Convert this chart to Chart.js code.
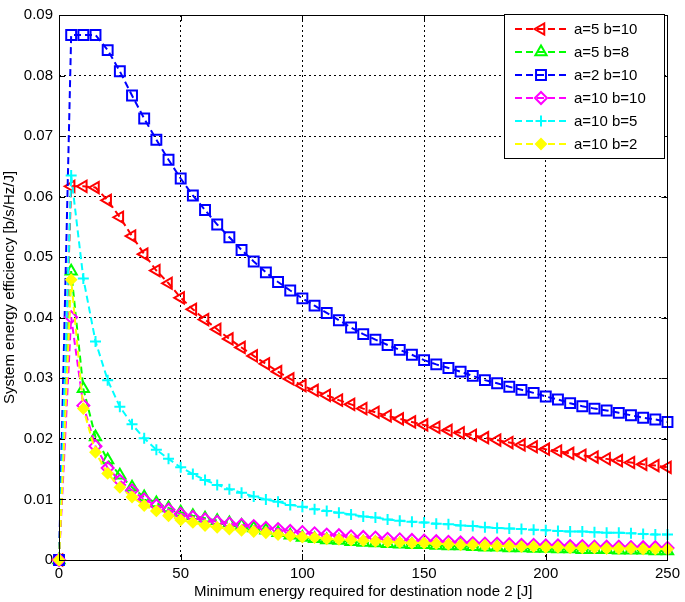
<!DOCTYPE html>
<html>
<head>
<meta charset="utf-8">
<script src="https://cdn.jsdelivr.net/npm/chart.js@4/dist/chart.umd.min.js"></script>
<style>
  body { margin: 0; background: #fff; }
  canvas { display: block; }
</style>
</head>
<body>
<canvas id="effChart" width="685" height="602"></canvas>
<script>
// x: minimum energy for destination node 2 [J]
const XS = [0, 5, 10, 15, 20, 25, 30, 35, 40, 45, 50, 55, 60, 65, 70, 75, 80, 85, 90, 95, 100,
  105, 110, 115, 120, 125, 130, 135, 140, 145, 150, 155, 160, 165, 170, 175, 180, 185, 190, 195, 200,
  205, 210, 215, 220, 225, 230, 235, 240, 245, 250];

const A5_B10 = [0, 0.0617, 0.0617, 0.0615, 0.0594, 0.0566, 0.0535, 0.0505, 0.0478, 0.0457, 0.0433,
  0.0414, 0.0397, 0.0381, 0.0365, 0.0351, 0.0337, 0.0324, 0.0311, 0.0299, 0.0288,
  0.0280, 0.0272, 0.0264, 0.0257, 0.0250, 0.0244, 0.0238, 0.0233, 0.0228, 0.0223,
  0.0219, 0.0214, 0.0210, 0.0206, 0.0202, 0.0198, 0.0194, 0.0190, 0.0187, 0.0183,
  0.0180, 0.0176, 0.0173, 0.0170, 0.0167, 0.0164, 0.0161, 0.0158, 0.0156, 0.0153];

const A5_B8 = [0, 0.0477, 0.0283, 0.0203, 0.0165, 0.0140, 0.0120, 0.0104, 0.0094, 0.0086, 0.0079,
  0.0073, 0.0069, 0.0065, 0.0061, 0.0057, 0.0053, 0.0049, 0.0045, 0.0041, 0.0037,
  0.0035, 0.0033, 0.0032, 0.0030, 0.0029, 0.0028, 0.0027, 0.0026, 0.0025, 0.0025,
  0.0024, 0.0023, 0.0023, 0.0022, 0.0021, 0.0021, 0.0020, 0.0020, 0.0019, 0.0019,
  0.0018, 0.0018, 0.0017, 0.0017, 0.0017, 0.0016, 0.0016, 0.0016, 0.0015, 0.0015];

const A2_B10 = [0, 0.0867, 0.0867, 0.0867, 0.0842, 0.0807, 0.0767, 0.0729, 0.0694, 0.0661, 0.0630,
  0.0602, 0.0578, 0.0554, 0.0533, 0.0512, 0.0493, 0.0475, 0.0459, 0.0445, 0.0432,
  0.0420, 0.0408, 0.0396, 0.0384, 0.0373, 0.0364, 0.0355, 0.0347, 0.0339, 0.0330,
  0.0323, 0.0317, 0.0311, 0.0304, 0.0297, 0.0292, 0.0286, 0.0281, 0.0276, 0.0270,
  0.0265, 0.0259, 0.0254, 0.0250, 0.0247, 0.0243, 0.0239, 0.0235, 0.0232, 0.0228];

const A10_B10 = [0, 0.0401, 0.0255, 0.0188, 0.0152, 0.0131, 0.0115, 0.0100, 0.0090, 0.0083, 0.0076,
  0.0071, 0.0067, 0.0063, 0.0060, 0.0058, 0.0056, 0.0053, 0.0051, 0.0048, 0.0046,
  0.0044, 0.0042, 0.0041, 0.0039, 0.0038, 0.0037, 0.0035, 0.0034, 0.0033, 0.0032,
  0.0031, 0.0030, 0.0029, 0.0028, 0.0027, 0.0027, 0.0026, 0.0025, 0.0025, 0.0024,
  0.0024, 0.0023, 0.0023, 0.0022, 0.0022, 0.0022, 0.0021, 0.0021, 0.0021, 0.0020];

const A10_B5 = [0, 0.0635, 0.0465, 0.0361, 0.0297, 0.0253, 0.0224, 0.0201, 0.0182, 0.0167, 0.0153,
  0.0142, 0.0132, 0.0124, 0.0117, 0.0111, 0.0105, 0.0100, 0.0096, 0.0091, 0.0088,
  0.0084, 0.0081, 0.0078, 0.0075, 0.0072, 0.0070, 0.0067, 0.0065, 0.0063, 0.0062,
  0.0060, 0.0059, 0.0057, 0.0056, 0.0054, 0.0053, 0.0052, 0.0051, 0.0050, 0.0049,
  0.0048, 0.0047, 0.0047, 0.0046, 0.0045, 0.0045, 0.0044, 0.0043, 0.0042, 0.0042];

const A10_B2 = [0, 0.0463, 0.0250, 0.0178, 0.0143, 0.0120, 0.0104, 0.0090, 0.0081, 0.0073, 0.0066,
  0.0062, 0.0057, 0.0054, 0.0051, 0.0049, 0.0047, 0.0045, 0.0042, 0.0040, 0.0038,
  0.0037, 0.0035, 0.0034, 0.0033, 0.0032, 0.0031, 0.0030, 0.0029, 0.0028, 0.0028,
  0.0027, 0.0026, 0.0025, 0.0025, 0.0024, 0.0023, 0.0023, 0.0022, 0.0022, 0.0021,
  0.0021, 0.0020, 0.0020, 0.0020, 0.0019, 0.0019, 0.0019, 0.0018, 0.0018, 0.0018];

const SERIES_LABELS = ['a=5 b=10', 'a=5 b=8', 'a=2 b=10', 'a=10 b=10', 'a=10 b=5', 'a=10 b=2'];
const X_TICKS = [0, 50, 100, 150, 200, 250];
const Y_TICKS = [0, 0.01, 0.02, 0.03, 0.04, 0.05, 0.06, 0.07, 0.08, 0.09];

const FONT = '"Liberation Sans", Arial, Helvetica, sans-serif';

const mkSet = (label, ys, color, style, opts) => Object.assign({
  label: label,
  data: XS.map((x, i) => ({ x: x, y: ys[i] })),
  borderColor: color,
  borderWidth: 2,
  borderDash: [7, 4],
  pointStyle: style,
  pointRadius: 6,
  pointBorderColor: color,
  pointBackgroundColor: 'rgba(0,0,0,0)',
  pointBorderWidth: 2,
  pointRotation: 0,
  tension: 0,
  clip: false
}, opts || {});

const datasets = [
  mkSet(SERIES_LABELS[0], A5_B10, '#ff0000', 'triangle', { pointRotation: -90, pointRadius: 6.5, order: 6 }),
  mkSet(SERIES_LABELS[1], A5_B8, '#00ff00', 'triangle', { pointRadius: 6.5, order: 5 }),
  mkSet(SERIES_LABELS[2], A2_B10, '#0000ff', 'rect', { pointRadius: 7, order: 4 }),
  mkSet(SERIES_LABELS[3], A10_B10, '#ff00ff', 'rectRot', { pointRadius: 6, order: 3 }),
  mkSet(SERIES_LABELS[4], A10_B5, '#00ffff', 'cross', { pointRadius: 5.5, order: 2 }),
  mkSet(SERIES_LABELS[5], A10_B2, '#ffff00', 'rectRot', { pointRadius: 5, pointBackgroundColor: '#ffff00', order: 1 })
];

// solid box, inward tick marks, and the legend inside the axes
const boxAndLegend = {
  id: 'boxAndLegend',
  afterDraw(chart) {
    const { ctx, chartArea: a, scales } = chart;
    ctx.save();
    ctx.strokeStyle = '#000';
    ctx.lineWidth = 1;
    ctx.setLineDash([]);
    ctx.beginPath();
    X_TICKS.forEach(t => {
      const px = Math.round(scales.x.getPixelForValue(t)) + 0.5;
      ctx.moveTo(px, a.bottom); ctx.lineTo(px, a.bottom - 6);
      ctx.moveTo(px, a.top); ctx.lineTo(px, a.top + 6);
    });
    Y_TICKS.forEach(t => {
      const py = Math.round(scales.y.getPixelForValue(t)) + 0.5;
      ctx.moveTo(a.left, py); ctx.lineTo(a.left + 6, py);
      ctx.moveTo(a.right, py); ctx.lineTo(a.right - 6, py);
    });
    ctx.stroke();
    ctx.strokeRect(Math.round(a.left) + 0.5, Math.round(a.top) + 0.5,
      Math.round(a.right - a.left), Math.round(a.bottom - a.top));

    // legend
    const lx = 504.5, ly = 14.5, lw = 160, lh = 144;
    ctx.fillStyle = '#fff';
    ctx.fillRect(lx, ly, lw, lh);
    ctx.strokeRect(lx, ly, lw, lh);
    ctx.font = '15px ' + FONT;
    ctx.textBaseline = 'middle';
    chart.data.datasets.forEach((ds, i) => {
      const y = 29 + i * 23;
      ctx.strokeStyle = ds.borderColor;
      ctx.lineWidth = 2;
      ctx.setLineDash(ds.borderDash);
      ctx.beginPath();
      ctx.moveTo(515, y); ctx.lineTo(569, y);
      ctx.stroke();
      ctx.setLineDash([]);
      ctx.fillStyle = ds.pointBackgroundColor;
      if (Chart.helpers && Chart.helpers.drawPoint) {
        Chart.helpers.drawPoint(ctx, {
          pointStyle: ds.pointStyle, rotation: ds.pointRotation,
          radius: ds.pointRadius, borderWidth: ds.pointBorderWidth
        }, 541, y);
      }
      ctx.fillStyle = '#000';
      ctx.fillText(ds.label, 574, y + 1);
    });
    ctx.restore();
  }
};

new Chart(document.getElementById('effChart').getContext('2d'), {
  type: 'line',
  data: { datasets: datasets },
  options: {
    responsive: false,
    animation: false,
    layout: { padding: { top: 5, right: 13, bottom: 0, left: 0 } },
    plugins: {
      legend: { display: false },
      tooltip: { enabled: false }
    },
    scales: {
      x: {
        type: 'linear',
        min: 0, max: 250,
        afterFit: s => { s.height = 42; },
        afterBuildTicks: s => { s.ticks = X_TICKS.map(v => ({ value: v })); },
        ticks: { color: '#000', font: { family: FONT, size: 15 }, padding: 5, maxRotation: 0 },
        grid: { color: '#000', lineWidth: 1, drawTicks: false },
        border: { display: false, dash: [2, 3] },
        title: {
          display: true, text: 'Minimum energy required for destination node 2 [J]',
          color: '#000', font: { family: FONT, size: 15 }, padding: { top: 0, bottom: 1 }
        }
      },
      y: {
        type: 'linear',
        min: 0, max: 0.09,
        afterFit: s => { s.width = 59; },
        afterBuildTicks: s => { s.ticks = Y_TICKS.map(v => ({ value: v })); },
        ticks: {
          color: '#000', font: { family: FONT, size: 15 }, padding: 6,
          callback: v => (v === 0 ? '0' : v.toFixed(2))
        },
        grid: { color: '#000', lineWidth: 1, drawTicks: false },
        border: { display: false, dash: [2, 3] },
        title: {
          display: true, text: 'System energy efficiency [b/s/Hz/J]',
          color: '#000', font: { family: FONT, size: 15 }, padding: { top: 1, bottom: 0 }
        }
      }
    }
  },
  plugins: [boxAndLegend]
});
</script>
</body>
</html>
